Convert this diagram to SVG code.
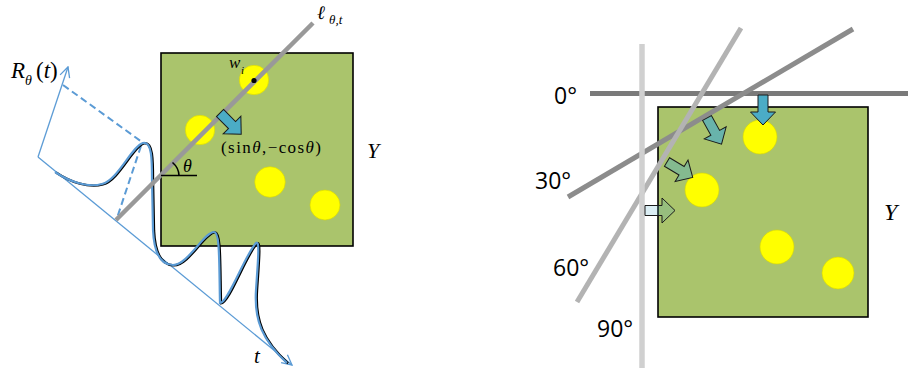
<svg xmlns="http://www.w3.org/2000/svg" width="908" height="375" viewBox="0 0 908 375">
<defs>
<style>
.sq{fill:#aac46c;stroke:#000;stroke-width:1.6}
.dot{fill:#ffff00;stroke:#d6d600;stroke-width:0.6}
.ax{fill:none;stroke:#5b9bd5;stroke-width:1.3}
.dash{fill:none;stroke:#5b9bd5;stroke-width:2;stroke-dasharray:7,4}
.ser{font-family:"Liberation Serif","Times New Roman",serif;fill:#000}
.it{font-style:italic}
.deg{font-family:"Open Sans","Liberation Sans",sans-serif;font-size:23px;fill:#000}
.arr{stroke:#1a1a1a;stroke-width:1;stroke-linejoin:miter}
</style>
<marker id="open" viewBox="0 0 12 12" refX="11" refY="6" markerWidth="12" markerHeight="12" markerUnits="userSpaceOnUse" orient="auto">
<path d="M1,1 L11,6 L1,11" fill="none" stroke="#5b9bd5" stroke-width="1.3"/>
</marker>
<path id="blk" d="M0,-5 L17,-5 L17,-12.5 L30,0 L17,12.5 L17,5 L0,5 Z"/>
<path id="curve" d="M55,172 C70,182 88,188 102,184 C118,180 132,146 143,143 C152,141 152,160 152,180 L153,230 C154,252 160,265 173,265 C188,265 204,232 214,232 C220,232 219,260 220,303 C228,303 245,255 256,243 C260,240 258,260 256,290 C254,320 262,340 287,363" fill="none"/>
</defs>

<!-- LEFT PANEL -->
<g id="squareY1">
<rect class="sq" x="161" y="53" width="192" height="193"/>
</g>
<g id="dots1">
<circle class="dot" cx="254" cy="80" r="14.7"/>
<circle class="dot" cx="200" cy="130" r="14.7"/>
<circle class="dot" cx="270" cy="182" r="15.3"/>
<circle class="dot" cx="325" cy="205" r="15"/>
</g>
<g id="axes">
<line class="ax" x1="38" y1="157" x2="68" y2="67" marker-end="url(#open)"/>
<line class="ax" x1="38" y1="157" x2="292" y2="365" marker-end="url(#open)"/>
<line class="dash" x1="63" y1="85" x2="142" y2="142"/>
<line class="dash" x1="141" y1="146" x2="117" y2="218"/>
</g>
<g id="projCurve">
<use href="#curve" stroke="#000" stroke-width="2.4" transform="translate(1,0.4)"/>
<use href="#curve" stroke="#5b9bd5" stroke-width="2.2"/>
</g>
<g id="lineL">
<line x1="116" y1="220" x2="313" y2="23" stroke="#999" stroke-width="4.5"/>
<circle cx="254" cy="80.5" r="2.6" fill="#000"/>
</g>
<g id="angle">
<line x1="161" y1="175.5" x2="197" y2="175.5" stroke="#000" stroke-width="1.4"/>
<path d="M172.5,162.5 A18,18 0 0 1 179,175.5" fill="none" stroke="#000" stroke-width="1.6"/>
<text class="ser it" x="183" y="172" font-size="18">θ</text>
</g>
<g id="normalArrow">
<use href="#blk" class="arr" fill="#4bacc6" transform="translate(220,113) rotate(45)"/>
</g>
<g id="labelsL">
<text class="ser it" x="317" y="19" font-size="19">ℓ</text>
<text class="ser it" x="329" y="24" font-size="13">θ,t</text>
<text class="ser it" x="229" y="68" font-size="17">w</text>
<text class="ser it" x="241" y="74" font-size="11">i</text>
<text class="ser" x="221" y="153" font-size="17" textLength="100" lengthAdjust="spacing">(sin<tspan class="it">θ</tspan>,−cos<tspan class="it">θ</tspan>)</text>
<text class="ser it" x="367" y="158" font-size="22">Y</text>
<text class="ser it" x="11" y="78" font-size="23">R</text>
<text class="ser it" x="25" y="85" font-size="14">θ</text>
<text class="ser" x="36" y="78" font-size="23">(<tspan class="it">t</tspan>)</text>
<text class="ser it" x="254" y="363" font-size="21">t</text>
</g>

<!-- RIGHT PANEL -->
<g id="squareY2">
<rect class="sq" x="658" y="107" width="210" height="210"/>
</g>
<g id="dots2">
<circle class="dot" cx="760" cy="137" r="17"/>
<circle class="dot" cx="702" cy="190" r="17"/>
<circle class="dot" cx="777" cy="247" r="17"/>
<circle class="dot" cx="838" cy="273" r="16"/>
</g>
<g id="lines">
<line x1="590" y1="93.5" x2="908" y2="93.5" stroke="#7a7a7a" stroke-width="5"/>
<line x1="568" y1="197" x2="853" y2="29" stroke="#8c8c8c" stroke-width="5"/>
<line x1="577" y1="302" x2="741" y2="28" stroke="#b3b3b3" stroke-width="5"/>
<line x1="642" y1="44" x2="642" y2="368" stroke="#d0d0d0" stroke-width="5.5"/>
</g>
<g id="dirArrows">
<use href="#blk" class="arr" fill="#4bacc6" transform="translate(763,95) rotate(90)"/>
<use href="#blk" class="arr" fill="rgba(75,172,198,0.7)" transform="translate(707,118) rotate(61)"/>
<use href="#blk" class="arr" fill="rgba(75,172,198,0.4)" transform="translate(667,162) rotate(31)"/>
<use href="#blk" class="arr" fill="rgba(75,172,198,0.2)" transform="translate(645,210.5) rotate(0)"/>
</g>
<g id="labelsR">
<text class="deg" x="554" y="104">0°</text>
<text class="deg" x="535" y="189">30°</text>
<text class="deg" x="553" y="276">60°</text>
<text class="deg" x="597" y="337">90°</text>
<text class="ser it" x="884" y="220" font-size="24">Y</text>
</g>
</svg>
